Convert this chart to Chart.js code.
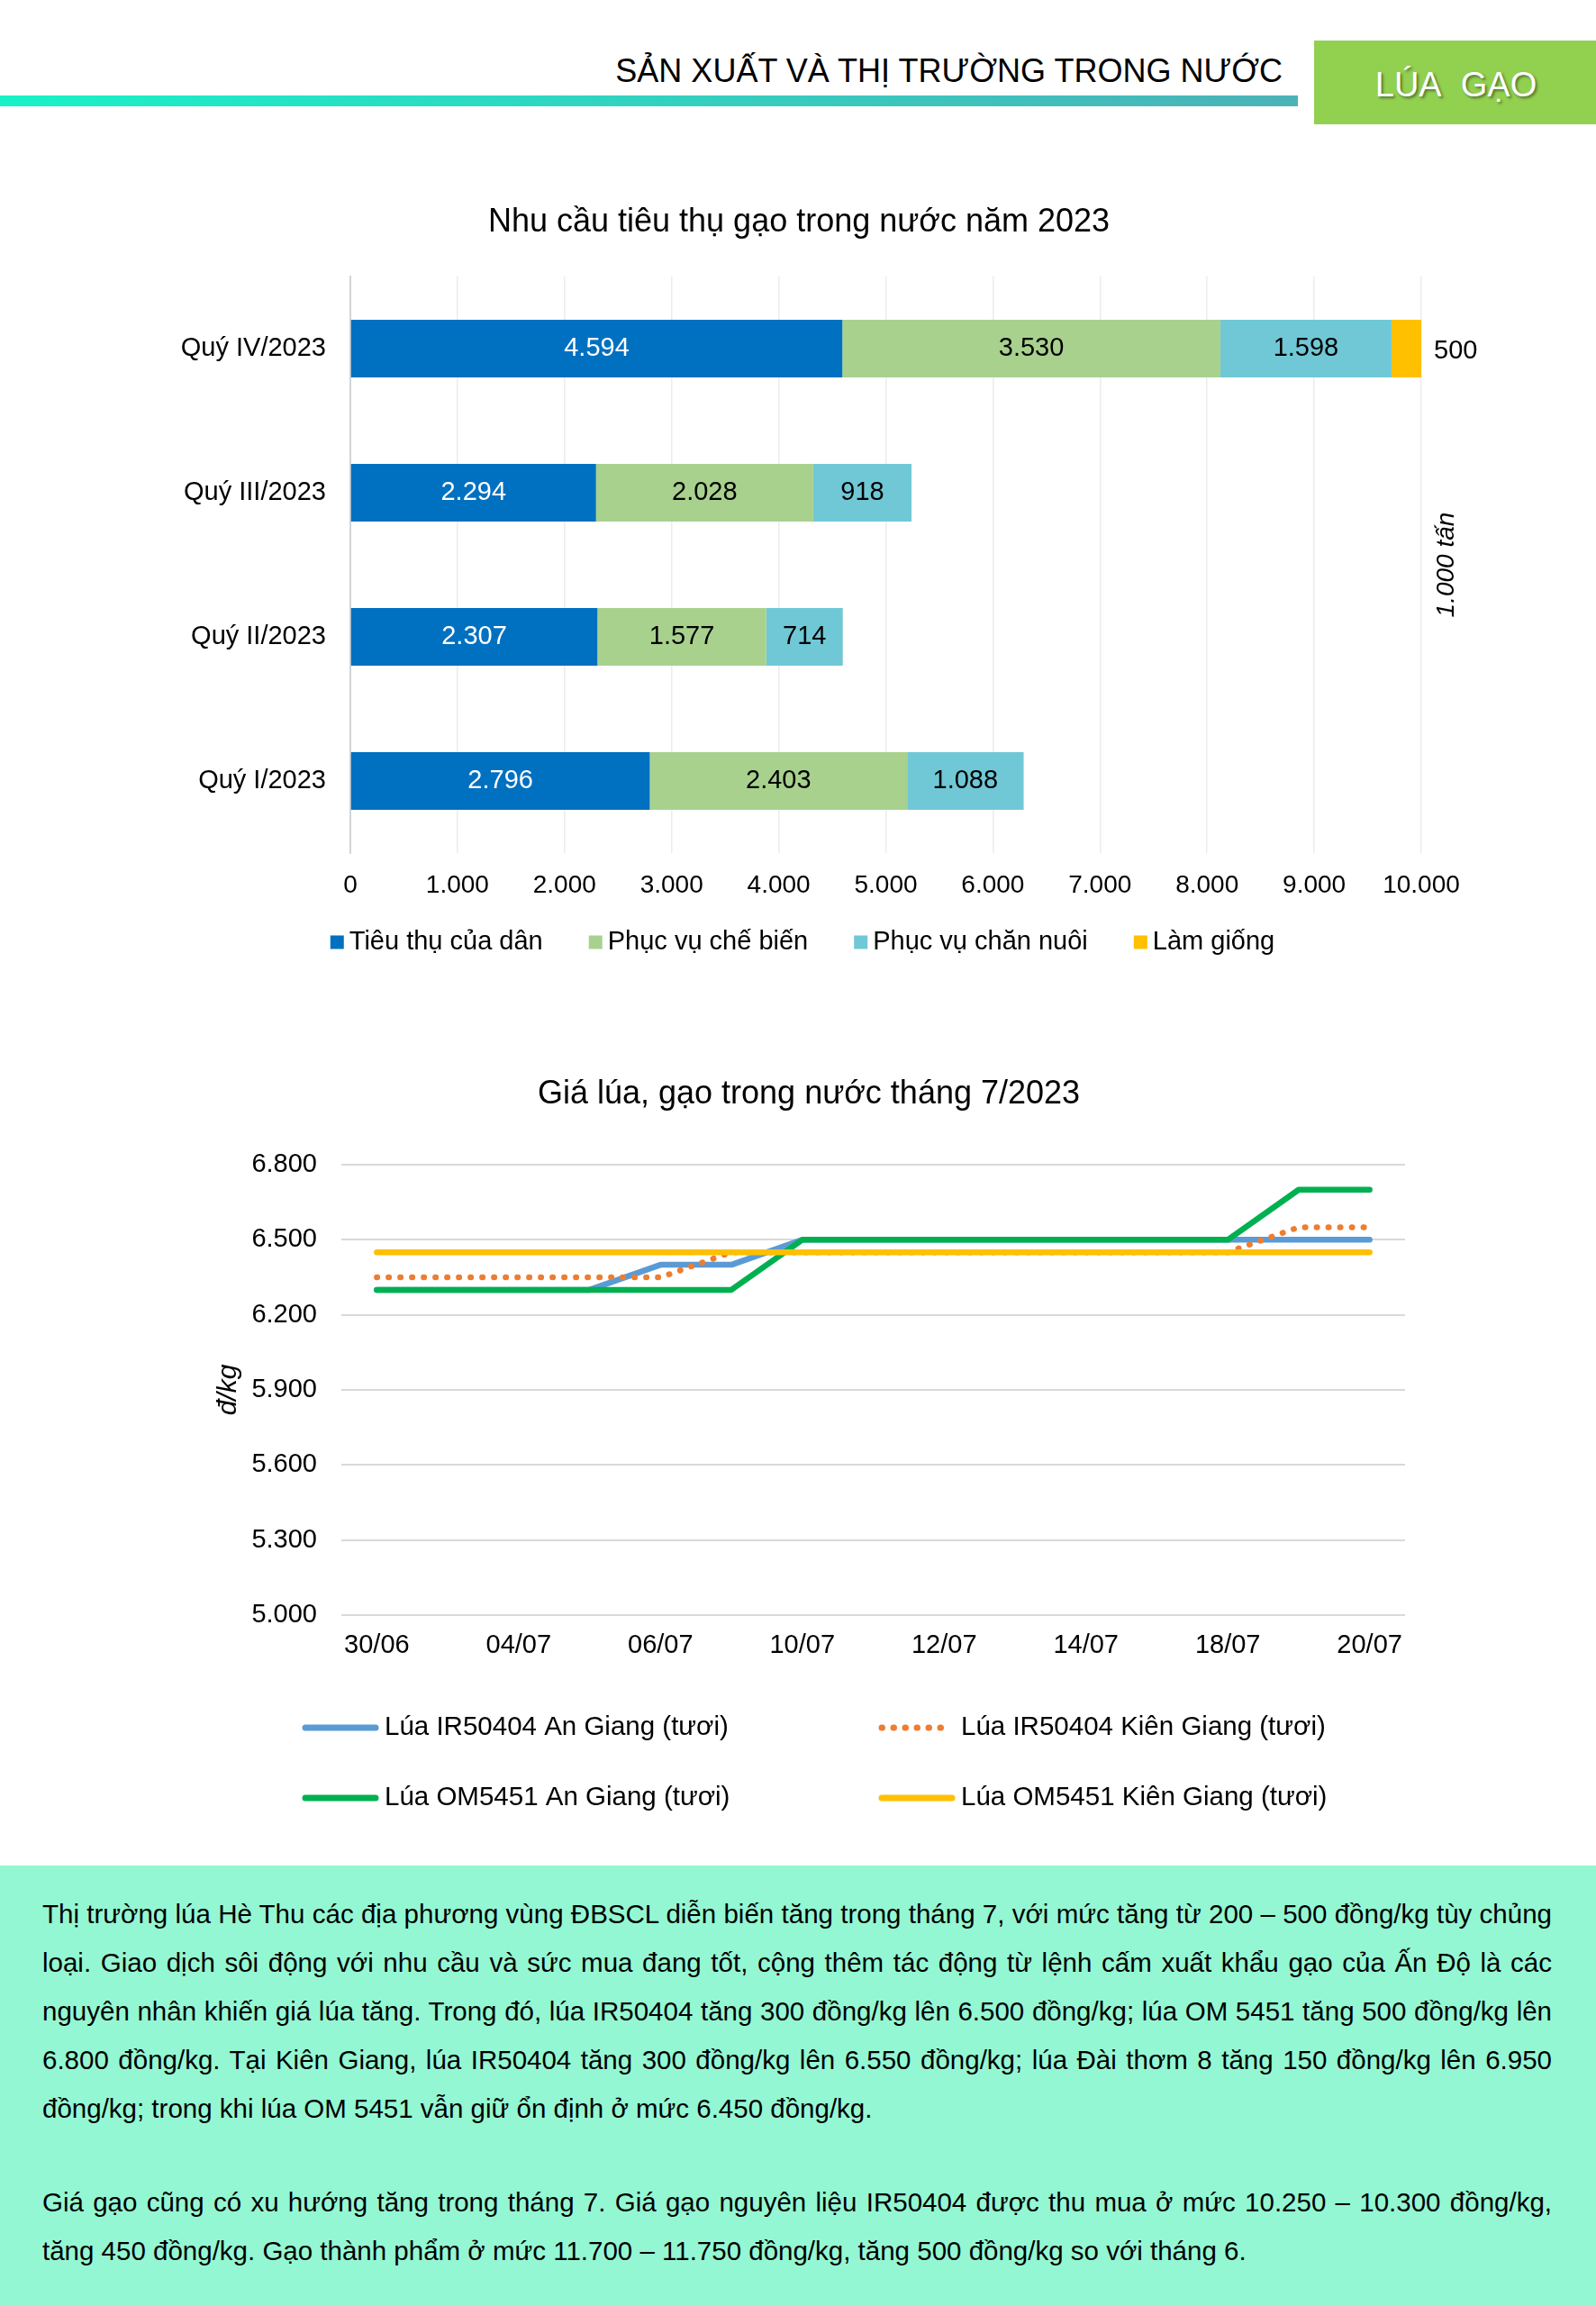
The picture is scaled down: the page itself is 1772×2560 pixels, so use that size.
<!DOCTYPE html>
<html lang="vi">
<head>
<meta charset="utf-8">
<title>Lúa gạo - Sản xuất và thị trường trong nước</title>
<script src="https://cdn.jsdelivr.net/npm/chart.js@4.4.0/dist/chart.umd.min.js"></script>
<style>
  html, body { margin: 0; padding: 0; background: #fff; }
  body {
    width: 1772px; height: 2560px; position: relative; overflow: hidden;
    font-family: "Liberation Sans", Arial, sans-serif; color: #000;
  }
  .hdr-title {
    position: absolute; right: 348px; top: 61px;
    font-size: 36px; line-height: 36px; white-space: nowrap;
  }
  .hdr-bar {
    position: absolute; left: 0; top: 106px; width: 1441px; height: 12px;
    background: linear-gradient(90deg, #18f2c8, #4bb2b8);
  }
  .hdr-box {
    position: absolute; left: 1459px; top: 45px; width: 313px; height: 93px;
    background: #92d050; color: #fff;
    font-size: 38px; line-height: 99px; text-align: center;
    text-shadow: 2px 2px 3px rgba(0,0,0,0.45);
    box-sizing: border-box; padding-left: 2px;
  }
  canvas { position: absolute; left: 0; }
  #barChart { top: 180px; }
  #lineChart { top: 1150px; }
  .note {
    position: absolute; left: 0; top: 2071px; width: 1772px; height: 489px;
    background: #94f7d3; box-sizing: border-box; padding: 27px 49px 0 47px;
    font-size: 29.5px; line-height: 54px;
  }
  .note div { white-space: nowrap; }
  .note .j { text-align: justify; text-align-last: justify; }
  .note .gap { height: 50px; }
</style>
</head>
<body>

<div class="hdr-title">SẢN XUẤT VÀ THỊ TRƯỜNG TRONG NƯỚC</div>
<div class="hdr-bar"></div>
<div class="hdr-box">LÚA&nbsp; GẠO</div>

<canvas id="barChart" width="1772" height="920"></canvas>
<canvas id="lineChart" width="1772" height="900"></canvas>

<div class="note">
  <div class="j">Thị trường lúa Hè Thu các địa phương vùng ĐBSCL diễn biến tăng trong tháng 7, với mức tăng từ 200 – 500 đồng/kg tùy chủng</div>
  <div class="j">loại. Giao dịch sôi động với nhu cầu và sức mua đang tốt, cộng thêm tác động từ lệnh cấm xuất khẩu gạo của Ấn Độ là các</div>
  <div class="j">nguyên nhân khiến giá lúa tăng. Trong đó, lúa IR50404 tăng 300 đồng/kg lên 6.500 đồng/kg; lúa OM 5451 tăng 500 đồng/kg lên</div>
  <div class="j">6.800 đồng/kg. Tại Kiên Giang, lúa IR50404 tăng 300 đồng/kg lên 6.550 đồng/kg; lúa Đài thơm 8 tăng 150 đồng/kg lên 6.950</div>
  <div>đồng/kg; trong khi lúa OM 5451 vẫn giữ ổn định ở mức 6.450 đồng/kg.</div>
  <div class="gap"></div>
  <div class="j">Giá gạo cũng có xu hướng tăng trong tháng 7. Giá gạo nguyên liệu IR50404 được thu mua ở mức 10.250 – 10.300 đồng/kg,</div>
  <div>tăng 450 đồng/kg. Gạo thành phẩm ở mức 11.700 – 11.750 đồng/kg, tăng 500 đồng/kg so với tháng 6.</div>
</div>

<script>
// ---- data: nhu cầu tiêu thụ (1.000 tấn), top to bottom ----
const quarters = ["Quý IV/2023", "Quý III/2023", "Quý II/2023", "Quý I/2023"];
const tieuThuDan = [4594, 2294, 2307, 2796];
const cheBien = [3530, 2028, 1577, 2403];
const chanNuoi = [1598, 918, 714, 1088];
const lamGiong = [500, null, null, null];
const barNames = ["Tiêu thụ của dân", "Phục vụ chế biến", "Phục vụ chăn nuôi", "Làm giống"];

// ---- data: giá lúa (đ/kg) ----
const days = ["30/06", "03/07", "04/07", "05/07", "06/07", "07/07", "10/07", "11/07",
              "12/07", "13/07", "14/07", "17/07", "18/07", "19/07", "20/07"];
const ir50404AnGiang   = [6300, 6300, 6300, 6300, 6400, 6400, 6500, 6500, 6500, 6500, 6500, 6500, 6500, 6500, 6500];
const ir50404KienGiang = [6350, 6350, 6350, 6350, 6350, 6450, 6450, 6450, 6450, 6450, 6450, 6450, 6450, 6550, 6550];
const om5451AnGiang    = [6300, 6300, 6300, 6300, 6300, 6300, 6500, 6500, 6500, 6500, 6500, 6500, 6500, 6700, 6700];
const om5451KienGiang  = [6450, 6450, 6450, 6450, 6450, 6450, 6450, 6450, 6450, 6450, 6450, 6450, 6450, 6450, 6450];
const lineNames = ["Lúa IR50404 An Giang (tươi)", "Lúa IR50404 Kiên Giang (tươi)",
                   "Lúa OM5451 An Giang (tươi)", "Lúa OM5451 Kiên Giang (tươi)"];

const FONT = '"Liberation Sans", Arial, sans-serif';
Chart.defaults.font.family = FONT;
Chart.defaults.color = "#000";
Chart.defaults.animation = false;

const fmt = v => String(v).replace(/\B(?=(\d{3})+(?!\d))/g, ".");

// titles drawn on the canvas
const chartTitle = {
  id: "chartTitle",
  afterDraw(chart, args, opts) {
    const ctx = chart.ctx;
    ctx.save();
    ctx.font = "36px " + FONT;
    ctx.fillStyle = "#000";
    ctx.textAlign = "center";
    ctx.textBaseline = "middle";
    ctx.fillText(opts.text, opts.x, opts.y);
    ctx.restore();
  }
};

// value labels inside bars, outside when clipped
const barLabels = {
  id: "barLabels",
  afterDatasetsDraw(chart) {
    const ctx = chart.ctx;
    const area = chart.chartArea;
    ctx.save();
    ctx.font = "29px " + FONT;
    ctx.textBaseline = "middle";
    chart.data.datasets.forEach((ds, i) => {
      chart.getDatasetMeta(i).data.forEach((bar, j) => {
        const v = ds.data[j];
        if (v == null) return;
        if (bar.x > area.right + 1) {
          ctx.textAlign = "left";
          ctx.fillStyle = "#000";
          ctx.fillText(fmt(v), area.right + 14, bar.y + 3);
        } else {
          ctx.textAlign = "center";
          ctx.fillStyle = i === 0 ? "#fff" : "#000";
          ctx.fillText(fmt(v), (bar.base + bar.x) / 2, bar.y);
        }
      });
    });
    // unit label on the right
    ctx.font = "italic 28px " + FONT;
    ctx.fillStyle = "#000";
    ctx.translate(area.right + 28, (area.top + area.bottom) / 2);
    ctx.rotate(-Math.PI / 2);
    ctx.textAlign = "center";
    ctx.fillText("1.000 tấn", 0, 0);
    ctx.restore();
  }
};

const barLegend = {
  id: "barLegend",
  afterDraw(chart) {
    const ctx = chart.ctx;
    ctx.save();
    ctx.font = "29px " + FONT;
    ctx.textBaseline = "middle";
    const box = 15, gapText = 6, gapItem = 51, y = 866;
    const items = chart.data.datasets.map(ds => ({
      text: ds.label, color: ds.backgroundColor, w: ctx.measureText(ds.label).width
    }));
    const total = items.reduce((s, it) => s + box + gapText + it.w, 0) + gapItem * (items.length - 1);
    let x = 891 - total / 2;
    items.forEach(it => {
      ctx.fillStyle = it.color;
      ctx.fillRect(x, y - box / 2, box, box);
      ctx.fillStyle = "#000";
      ctx.textAlign = "left";
      ctx.fillText(it.text, x + box + gapText, y);
      x += box + gapText + it.w + gapItem;
    });
    ctx.restore();
  }
};

const lineLegend = {
  id: "lineLegend",
  afterDraw(chart) {
    const ctx = chart.ctx;
    const cols = [335, 975], rows = [768, 846], len = 86;
    chart.data.datasets.forEach((ds, i) => {
      const x = cols[i % 2], y = rows[Math.floor(i / 2)];
      ctx.save();
      ctx.strokeStyle = ds.borderColor;
      ctx.lineWidth = 7;
      ctx.lineCap = "round";
      ctx.setLineDash(ds.borderDash || []);
      ctx.beginPath();
      ctx.moveTo(x + 4, y);
      ctx.lineTo(x + len - 4, y);
      ctx.stroke();
      ctx.setLineDash([]);
      ctx.fillStyle = "#000";
      ctx.font = "29.5px " + FONT;
      ctx.textBaseline = "middle";
      ctx.fillText(ds.label, x + len + 6, y);
      ctx.restore();
    });
  }
};

// BAR CHART
new Chart(document.getElementById("barChart"), {
  type: "bar",
  data: {
    labels: quarters,
    datasets: [
      { label: barNames[0], data: tieuThuDan, backgroundColor: "#0070c0" },
      { label: barNames[1], data: cheBien, backgroundColor: "#a9d18e" },
      { label: barNames[2], data: chanNuoi, backgroundColor: "#70c8d6" },
      { label: barNames[3], data: lamGiong, backgroundColor: "#ffc000" }
    ]
  },
  options: {
    indexAxis: "y",
    responsive: false,
    datasets: { bar: { clip: 0, barPercentage: 0.4, categoryPercentage: 1 } },
    layout: { padding: { top: 127, right: 194, bottom: 93, left: 0 } },
    scales: {
      x: {
        stacked: true, min: 0, max: 10000,
        ticks: { stepSize: 1000, padding: 19, font: { size: 28 }, callback: v => fmt(v) },
        grid: { color: "#ececec", lineWidth: 1.5, drawTicks: false },
        border: { display: false },
        afterFit: s => { s.height = 60; }
      },
      y: {
        stacked: true,
        ticks: { padding: 27, font: { size: 29 } },
        grid: { display: false, drawTicks: false },
        border: { display: true, color: "#d4d4d4", width: 2 },
        afterFit: s => { s.width = 389; }
      }
    },
    plugins: {
      legend: { display: false },
      tooltip: { enabled: false },
      chartTitle: { text: "Nhu cầu tiêu thụ gạo trong nước năm 2023", x: 887, y: 67 }
    }
  },
  plugins: [chartTitle, barLabels, barLegend]
});

// LINE CHART
new Chart(document.getElementById("lineChart"), {
  type: "line",
  data: {
    labels: days,
    datasets: [
      { label: lineNames[0], data: ir50404AnGiang, borderColor: "#5b9bd5", order: 4 },
      { label: lineNames[1], data: ir50404KienGiang, borderColor: "#ed7d31", order: 3,
        borderDash: [0.5, 12.5] },
      { label: lineNames[2], data: om5451AnGiang, borderColor: "#00b050", order: 2 },
      { label: lineNames[3], data: om5451KienGiang, borderColor: "#ffc000", order: 1 }
    ]
  },
  options: {
    responsive: false,
    datasets: { line: { borderWidth: 6.5, pointRadius: 0, tension: 0, borderCapStyle: "round", borderJoinStyle: "round" } },
    layout: { padding: { top: 143, right: 212, bottom: 207, left: 0 } },
    scales: {
      x: {
        offset: true,
        ticks: { autoSkip: false, maxRotation: 0, padding: 17, font: { size: 29 },
                 callback: (v, i) => (i % 2 === 0 ? days[i] : "") },
        grid: { display: false, drawTicks: false },
        border: { display: false },
        afterFit: s => { s.height = 50; }
      },
      y: {
        min: 5000, max: 6800,
        ticks: { stepSize: 300, padding: 27, font: { size: 29 }, callback: v => fmt(v) },
        grid: { color: "#d9d9d9", lineWidth: 2, drawTicks: false },
        border: { display: false },
        title: { display: true, text: "đ/kg", font: { size: 30, style: "italic" }, padding: { top: 236, bottom: 0 } },
        afterFit: s => { s.width = 379; }
      }
    },
    plugins: {
      legend: { display: false },
      tooltip: { enabled: false },
      chartTitle: { text: "Giá lúa, gạo trong nước tháng 7/2023", x: 898, y: 65 }
    }
  },
  plugins: [chartTitle, lineLegend]
});
</script>
</body>
</html>
